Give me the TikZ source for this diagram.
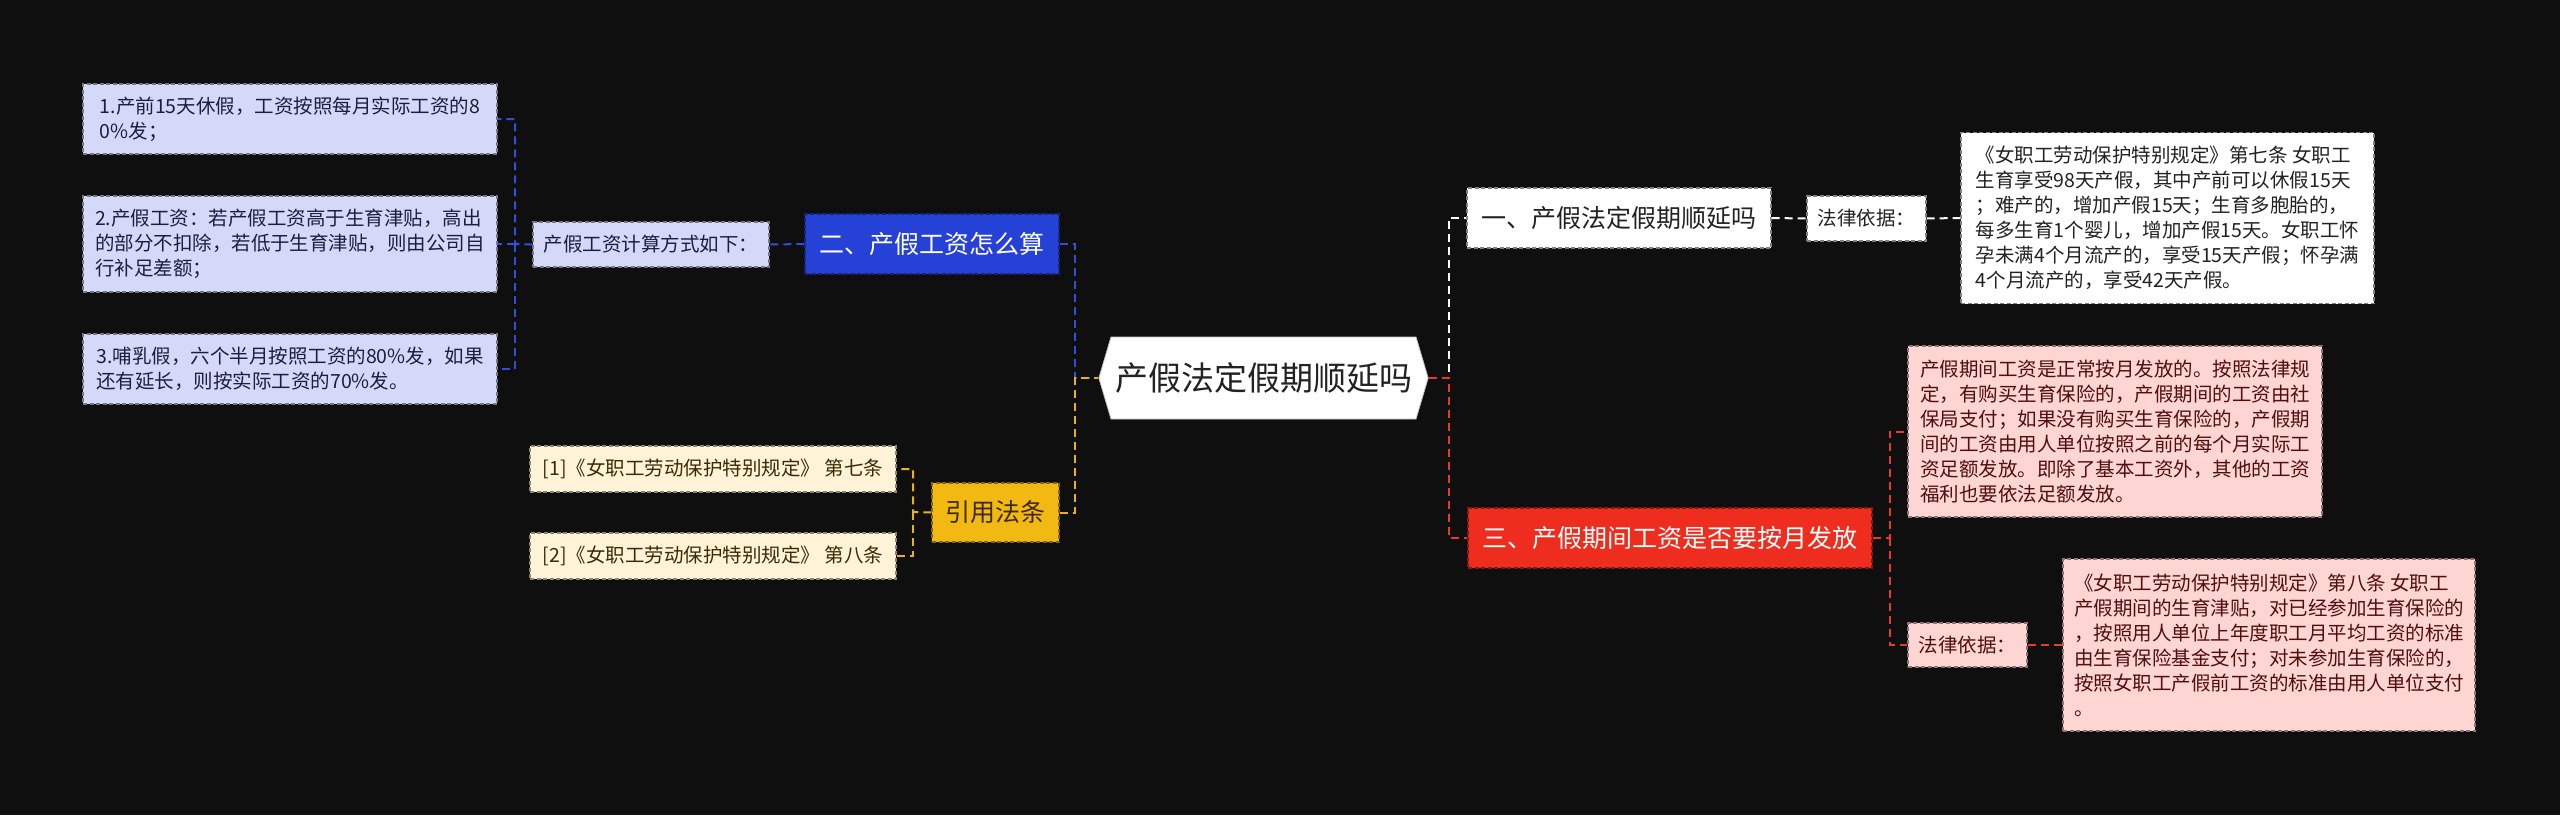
\documentclass[tikz,border=0pt]{standalone}
\usepackage{fontspec}
\setmainfont{Noto Sans CJK SC}
\usetikzlibrary{shapes.symbols}
\definecolor{bg}{RGB}{15,15,15}
\definecolor{lav}{RGB}{213,217,247}
\definecolor{lavtext}{RGB}{28,30,60}
\definecolor{bluebox}{RGB}{38,66,214}
\definecolor{blueline}{RGB}{50,78,220}
\definecolor{cream}{RGB}{254,243,214}
\definecolor{creamtext}{RGB}{60,42,5}
\definecolor{yellowbox}{RGB}{242,185,18}
\definecolor{yellowline}{RGB}{232,178,26}
\definecolor{redbox}{RGB}{238,45,30}
\definecolor{redline}{RGB}{232,57,42}
\definecolor{pink}{RGB}{253,213,211}
\definecolor{pinktext}{RGB}{80,14,14}
\definecolor{darktext}{RGB}{34,34,34}
\tikzset{
  box/.style={rectangle, inner sep=0pt, align=left, dash pattern=on 4pt off 2.5pt, line width=1.2pt},
  smallf/.style={font=\fontsize{19.5pt}{25pt}\selectfont},
  bigf/.style={font=\fontsize{25pt}{30pt}\selectfont},
  leafb/.style={box, smallf, fill=lav, draw=lav!55!black, text=lavtext},
  citeb/.style={box, smallf, fill=cream, draw=cream!55!black, text=creamtext},
  pinkb/.style={box, smallf, fill=pink, draw=pink!55!black, text=pinktext},
  whiteb/.style={box, smallf, fill=white, draw=white!50!black, text=darktext},
  bluehead/.style={box, bigf, fill=bluebox, draw=bluebox!55!black, text=white},
  yellowhead/.style={box, bigf, fill=yellowbox, draw=yellowbox!55!black, text=creamtext},
  redhead/.style={box, bigf, fill=redbox, draw=redbox!55!black, text=white},
  whitehead/.style={box, bigf, fill=white, draw=white!50!black, text=darktext},
  conn/.style={line width=2pt, dash pattern=on 8pt off 5pt},
  bconn/.style={conn, draw=blueline},
  yconn/.style={conn, draw=yellowline},
  rconn/.style={conn, draw=redline},
  wconn/.style={conn, draw=white},
}
\begin{document}
\begin{tikzpicture}[x=1pt,y=-1pt]
\fill[bg] (0,0) rectangle (2560,815);
\useasboundingbox (0,0) rectangle (2560,815);

% central
\node[shape=signal, signal to=west and east, signal pointer angle=147, fill=white, draw=white!75!black, line width=0.8pt,
  font=\fontsize{33pt}{36pt}\selectfont, text=darktext, minimum height=82pt, inner xsep=4pt, inner ysep=0pt] (c) at (1263.5,378) {产假法定假期顺延吗};

% left branch: blue
\node[bluehead, minimum width=254pt, minimum height=60pt, align=center] (blue) at (932,244) {二、产假工资怎么算};
\node[leafb, minimum width=236pt, minimum height=45pt] (calc) at (651,244.5) {产假工资计算方式如下：};
\node[leafb, minimum width=414pt, minimum height=70pt] (l1) at (290,119) {1.产前15天休假，工资按照每月实际工资的8\\0\%发；};
\node[leafb, minimum width=414pt, minimum height=96pt] (l2) at (290,244) {2.产假工资：若产假工资高于生育津贴，高出\\的部分不扣除，若低于生育津贴，则由公司自\\行补足差额；};
\node[leafb, minimum width=414pt, minimum height=70pt] (l3) at (290,369) {3.哺乳假，六个半月按照工资的80\%发，如果\\还有延长，则按实际工资的70\%发。};

% left branch: yellow
\node[yellowhead, minimum width=127pt, minimum height=59pt, align=center] (yel) at (995.5,512.5) {引用法条};
\node[citeb, minimum width=366pt, minimum height=46pt] (ct1) at (713,469) {[1]《女职工劳动保护特别规定》 第七条};
\node[citeb, minimum width=366pt, minimum height=46pt] (ct2) at (713,556) {[2]《女职工劳动保护特别规定》 第八条};

% right branch: white
\node[whitehead, minimum width=304pt, minimum height=60pt, align=center] (h1) at (1619,218) {一、产假法定假期顺延吗};
\node[whiteb, minimum width=119pt, minimum height=45pt] (law1) at (1866.5,218.5) {法律依据：};
\node[whiteb, minimum width=413pt, minimum height=171pt] (t1) at (2167.5,218) {《女职工劳动保护特别规定》第七条 女职工\\生育享受98天产假，其中产前可以休假15天\\；难产的，增加产假15天；生育多胞胎的，\\每多生育1个婴儿，增加产假15天。女职工怀\\孕未满4个月流产的，享受15天产假；怀孕满\\4个月流产的，享受42天产假。};

% right branch: red
\node[redhead, minimum width=404pt, minimum height=60pt, align=center] (h3) at (1670,538) {三、产假期间工资是否要按月发放};
\node[pinkb, minimum width=414pt, minimum height=171pt] (p1) at (2115,431.5) {产假期间工资是正常按月发放的。按照法律规\\定，有购买生育保险的，产假期间的工资由社\\保局支付；如果没有购买生育保险的，产假期\\间的工资由用人单位按照之前的每个月实际工\\资足额发放。即除了基本工资外，其他的工资\\福利也要依法足额发放。};
\node[pinkb, minimum width=119pt, minimum height=44pt] (law2) at (1967.5,645) {法律依据：};
\node[pinkb, minimum width=412pt, minimum height=172pt] (p2) at (2269,645) {《女职工劳动保护特别规定》第八条 女职工\\产假期间的生育津贴，对已经参加生育保险的\\，按照用人单位上年度职工月平均工资的标准\\由生育保险基金支付；对未参加生育保险的，\\按照女职工产假前工资的标准由用人单位支付\\。};

% junctions
\coordinate (jl) at (1075,378);
\coordinate (jr) at (1449,378);
\coordinate (jc) at (515,244);
\coordinate (jy) at (913,512);
\coordinate (jh3) at (1890,538);

% connectors
\draw[bconn] (blue.east) -| (jl) -- (c.west);
\draw[yconn] (yel.east) -| (jl) -- (c.west);
\draw[wconn] (c.east) -- (jr) |- (h1.west);
\draw[rconn] (c.east) -- (jr) |- (h3.west);
\draw[bconn] (blue.west) -- (calc.east);
\draw[bconn] (calc.west) -- (jc) |- (l1.east);
\draw[bconn] (jc) -- (l2.east);
\draw[bconn] (jc) |- (l3.east);
\draw[yconn] (yel.west) -- (jy) |- (ct1.east);
\draw[yconn] (jy) |- (ct2.east);
\draw[wconn] (h1.east) -- (law1.west);
\draw[wconn] (law1.east) -- (t1.west);
\draw[rconn] (h3.east) -- (jh3) |- (p1.west);
\draw[rconn] (jh3) |- (law2.west);
\draw[rconn] (law2.east) -- (p2.west);
\end{tikzpicture}
\end{document}
